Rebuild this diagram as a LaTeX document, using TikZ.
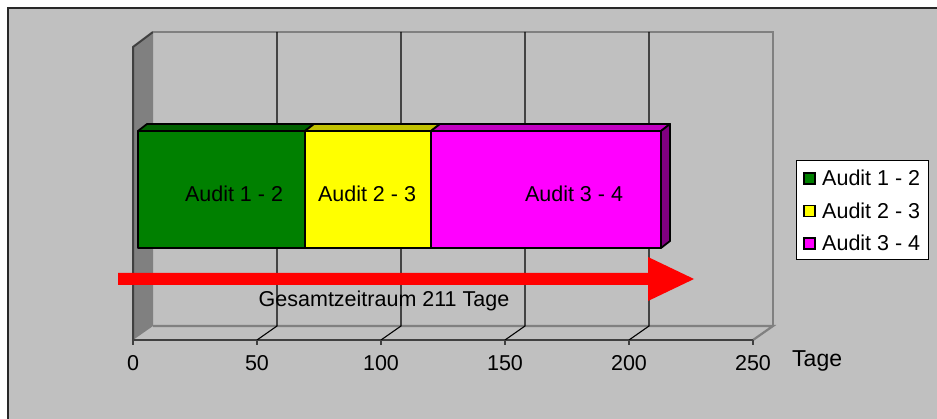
\documentclass[tikz,border=0pt]{standalone}
\usepackage{fontspec}
\setmainfont{Liberation Sans}
\usepackage{xcolor}
\usetikzlibrary{positioning}
\definecolor{chartbg}{RGB}{192, 192, 192}
\definecolor{wallgray}{RGB}{128, 128, 128}
\definecolor{axisdark}{RGB}{64, 64, 64}
\definecolor{framedark}{RGB}{40, 40, 40}
\definecolor{audgreen}{RGB}{0, 128, 0}
\definecolor{audgreentop}{RGB}{0, 96, 0}
\definecolor{audyellow}{RGB}{255, 255, 0}
\definecolor{audyellowtop}{RGB}{192, 192, 0}
\definecolor{audmagenta}{RGB}{255, 0, 255}
\definecolor{audmagentatop}{RGB}{192, 0, 192}
\definecolor{audmagentaside}{RGB}{128, 0, 128}
\tikzset{
    chartfont/.style={font=\fontsize{21.5}{25}\selectfont},
    barface/.style={draw=black, line width=1.8pt, line join=round},
    barlabel/.style={chartfont, inner sep=0pt, anchor=base},
    ticklabel/.style={chartfont, inner sep=0pt, anchor=base},
    legendkey/.style={draw=black, line width=1.8pt, minimum size=11pt, inner sep=0pt},
    legendtext/.style={chartfont, inner sep=0pt, anchor=base west},
    gridline/.style={black, line width=1.1pt},
    wallline/.style={wallgray, line width=2.2pt},
    darkline/.style={axisdark, line width=2pt}
}

\begin{document}
\begin{tikzpicture}[x=1pt, y=-1pt]
    \useasboundingbox (0,0) rectangle (937,419);
    \fill[white] (0,0) rectangle (937,419);
    \fill[chartbg] (8,8) rectangle (937,419);
    \draw[framedark, line width=2.5pt] (8,419) -- (8,8) -- (937,8);

    % walls and floor
    \fill[wallgray] (133,47) -- (153,32) -- (153,326) -- (133,340) -- cycle;
    \draw[darkline] (133,340) -- (133,47) -- (153,32);
    \draw[wallline] (153,32) -- (773,32) -- (773,326);
    \draw[wallline] (153,326) -- (773,326) -- (753,340);
    \draw[darkline] (133,340) -- (753,340);

    % grid
    \foreach \v in {50,100,150,200}
        \draw[gridline] ({153+2.48*\v},32) -- ({153+2.48*\v},326) -- ({133+2.48*\v},340);
    \foreach \v in {0,50,...,250} {
        \draw[darkline, line width=1.2pt] ({133+2.48*\v},340) -- ({133+2.48*\v},345);
        \node[ticklabel] (tick\v) at ({133+2.48*\v},371) {\v};
    }
    \node[legendtext, font=\fontsize{23}{27}\selectfont] (unit) at (792,367) {Tage};

    % bars
    \foreach \xa/\xb/\col in {138/305/audgreen, 305/431/audyellow, 431/661/audmagenta} {
        \draw[barface, fill=\col top] (\xa,131) -- (\xa+9,124) -- (\xb+9,124) -- (\xb,131) -- cycle;
        \draw[barface, fill=\col] (\xa,131) rectangle (\xb,248);
    }
    \draw[barface, fill=audmagentaside] (661,131) -- (670,124) -- (670,241) -- (661,248) -- cycle;
    \node[barlabel] (lab12) at (234,202) {Audit 1 - 2};
    \node[barlabel] (lab23) at (367,202) {Audit 2 - 3};
    \node[barlabel] (lab34) at (574,202) {Audit 3 - 4};

    % total span
    \fill[red] (118,273) -- (648,273) -- (648,257) -- (694,279) -- (648,301) -- (648,285) -- (118,285) -- cycle;
    \node[barlabel] (total) at (384,307) {Gesamtzeitraum 211 Tage};

    % legend
    \draw[black, line width=1pt, fill=white] (796,161) rectangle (928,260);
    \node[legendkey, fill=audgreen] (key12) at (809.5,178.5) {};
    \node[legendkey, fill=audyellow] (key23) at (809.5,211) {};
    \node[legendkey, fill=audmagenta] (key34) at (809.5,243.5) {};
    \node[legendtext] (leg12) at (822,186) {Audit 1 - 2};
    \node[legendtext] (leg23) at (822,218.5) {Audit 2 - 3};
    \node[legendtext] (leg34) at (822,251) {Audit 3 - 4};
\end{tikzpicture}
\end{document}
